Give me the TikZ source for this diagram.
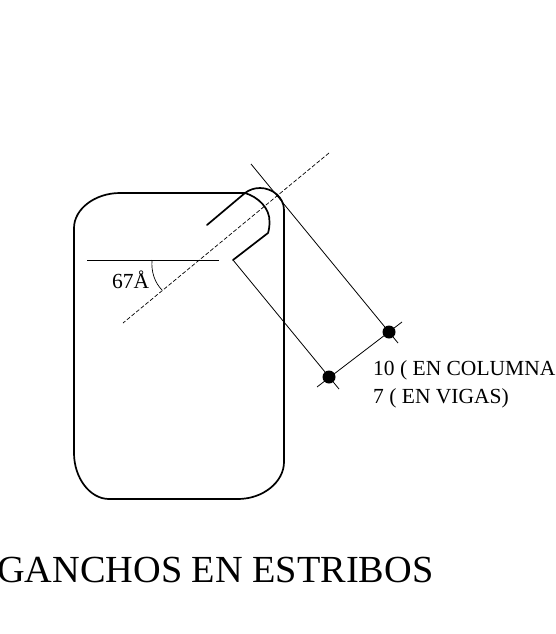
\documentclass[tikz,border=0pt]{standalone}
\usepackage{fontspec}
\setmainfont{Liberation Serif}
\tikzset{
  x=1pt,y=-1pt,
  thick bar/.style={line width=1.7pt,line cap=round,line join=round},
  thin bar/.style={line width=0.8pt},
  axis/.style={line width=0.7pt,dash pattern=on 4pt off 2pt},
  pointdot/.style={circle,fill=black,inner sep=0pt,minimum size=13pt},
  label/.style={inner sep=0pt,anchor=base west,font=\fontsize{21.5}{24}\selectfont},
  titlelabel/.style={inner sep=0pt,anchor=base west,font=\fontsize{38.3}{44}\selectfont}
}
\begin{document}
\begin{tikzpicture}
\useasboundingbox (0,0) rectangle (555,634);
% stirrup
\draw[thick bar] (207,225) -- (245,193) -- (120,193)
  .. controls (95,193) and (74,209) .. (74,228)
  -- (74,453)
  .. controls (74,478) and (90,499) .. (109,499)
  -- (238,499)
  .. controls (263,499) and (284,482) .. (284,462)
  -- (284,210)
  .. controls (284,197) and (272,188) .. (260,188)
  .. controls (254,188) and (249,190) .. (245,193)
  .. controls (258,197) and (270,208) .. (269.5,222)
  .. controls (269.5,226) and (269,230) .. (268,233)
  -- (233,260);
% reference points
\node[pointdot] (p1) at (389,332) {};
\node[pointdot] (p2) at (329,377) {};
\coordinate (c0) at (233,260);
\coordinate (c1) at (251,164);
\coordinate (t1) at (402,322);
\coordinate (t2) at (398,343);
\coordinate (t3) at (317,387);
\coordinate (t4) at (339,389);
\draw[thin bar] (c0) -- (t4);
\draw[thin bar] (c1) -- (t2);
\draw[thin bar] (t1) -- (t3);
% axis
\coordinate (a0) at (329,153);
\coordinate (a1) at (123,323);
\draw[axis] (a0) -- (a1);
\coordinate (h0) at (87,260);
\coordinate (h1) at (219,260);
\draw[thin bar] (h0) -- (h1);
\draw[line width=0.7pt] (152,260) .. controls (151,272) and (155,283) .. (162,290);
% labels
\node[label] (ang) at (112,288) {67Å};
\node[label] (l1) at (373,375) {10 ( EN COLUMNA};
\node[label] (l2) at (373,403) {7 ( EN VIGAS)};
\node[titlelabel] (title) at (-3,582) {GANCHOS EN ESTRIBOS};
\end{tikzpicture}
\end{document}
